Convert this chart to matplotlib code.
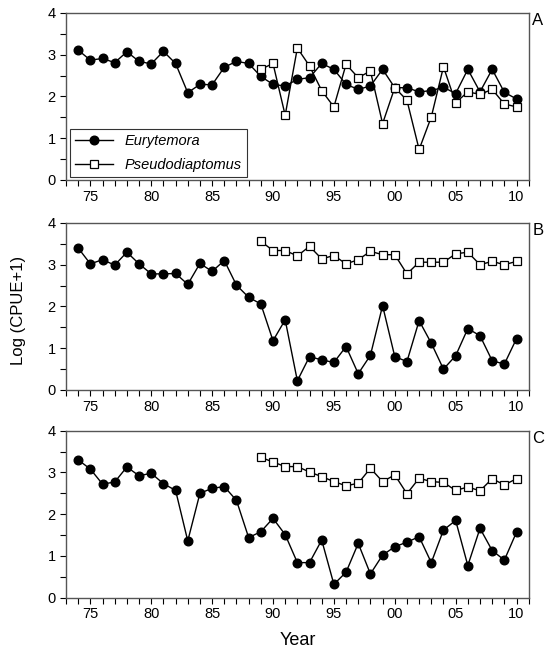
import matplotlib
matplotlib.use("Agg")
import matplotlib.pyplot as plt
from matplotlib.ticker import MultipleLocator, FixedLocator

plt.rcParams['font.family'] = ['Liberation Sans', 'DejaVu Sans']

years_eury = list(range(1974, 2011))
years_pseudo = list(range(1989, 2011))

eury_A = [3.11, 2.87, 2.91, 2.81, 3.07, 2.84, 2.78, 3.08, 2.79, 2.09, 2.29, 2.28, 2.70, 2.84, 2.79,
          2.48, 2.29, 2.25, 2.41, 2.45, 2.79, 2.65, 2.29, 2.17, 2.25, 2.65, 2.21, 2.21, 2.11, 2.14,
          2.22, 2.07, 2.65, 2.11, 2.65, 2.10, 1.94]
pseudo_A = [2.65, 2.79, 1.55, 3.16, 2.73, 2.14, 1.75, 2.77, 2.45, 2.61, 1.35, 2.21, 1.91, 0.73,
            1.51, 2.71, 1.85, 2.11, 2.05, 2.17, 1.82, 1.75]

eury_B = [3.40, 3.02, 3.12, 2.99, 3.30, 3.02, 2.78, 2.78, 2.79, 2.53, 3.03, 2.84, 3.10, 2.51, 2.22,
          2.06, 1.18, 1.68, 0.22, 0.80, 0.72, 0.66, 1.04, 0.39, 0.83, 2.02, 0.80, 0.68, 1.66, 1.12,
          0.50, 0.82, 1.47, 1.30, 0.70, 0.62, 1.23]
pseudo_B = [3.56, 3.34, 3.34, 3.21, 3.44, 3.14, 3.22, 3.02, 3.12, 3.32, 3.24, 3.24, 2.78, 3.06,
            3.06, 3.06, 3.26, 3.30, 3.00, 3.08, 3.00, 3.08]

eury_C = [3.30, 3.08, 2.72, 2.77, 3.13, 2.92, 2.98, 2.73, 2.57, 1.36, 2.50, 2.62, 2.66, 2.33, 1.44,
          1.58, 1.90, 1.51, 0.84, 0.84, 1.38, 0.32, 0.61, 1.30, 0.57, 1.02, 1.22, 1.33, 1.46, 0.84,
          1.62, 1.85, 0.77, 1.66, 1.13, 0.90, 1.57]
pseudo_C = [3.36, 3.25, 3.14, 3.14, 3.01, 2.90, 2.78, 2.68, 2.74, 3.10, 2.78, 2.94, 2.49, 2.86,
            2.78, 2.76, 2.57, 2.65, 2.56, 2.85, 2.70, 2.85]

panel_labels = ["A", "B", "C"]
xtick_years = [1975, 1980, 1985, 1990, 1995, 2000, 2005, 2010]
xtick_labels = ["75", "80", "85", "90", "95", "00", "05", "10"]
series_names = ["Eurytemora", "Pseudodiaptomus"]

fig = plt.figure(figsize=(5.45, 6.54), dpi=100)
left, width, height = 0.1211, 0.849, 0.2554
bottoms = [0.7248, 0.4037, 0.0861]
data = [(eury_A, pseudo_A), (eury_B, pseudo_B), (eury_C, pseudo_C)]

spine_col = "#555555"
axes = []
for i, (b, (e, p)) in enumerate(zip(bottoms, data)):
    ax = fig.add_axes([left, b, width, height])
    axes.append(ax)
    ax.plot(years_eury, e, '-o', color='black', lw=1.0, ms=6.2, mfc='black', mec='black',
            label=series_names[0], zorder=3)
    ax.plot(years_pseudo, p, '-s', color='black', lw=1.0, ms=5.6, mfc='white', mec='black',
            mew=0.9, label=series_names[1], zorder=4)
    ax.set_xlim(1973, 2011)
    ax.set_ylim(0, 4)
    ax.xaxis.set_major_locator(FixedLocator(xtick_years))
    ax.set_xticklabels(xtick_labels)
    ax.xaxis.set_minor_locator(MultipleLocator(1))
    ax.yaxis.set_major_locator(MultipleLocator(1))
    ax.yaxis.set_minor_locator(MultipleLocator(0.5))
    ax.tick_params(which='both', direction='out', length=4, width=0.8, color='black',
                   labelsize=10.5)
    ax.tick_params(axis='x', pad=3)
    for s in ax.spines.values():
        s.set_color(spine_col)
        s.set_linewidth(1.0)
    ax.text(1.008, 1.0, panel_labels[i], transform=ax.transAxes, ha='left', va='top',
            fontsize=12)
    if i == 0:
        leg = ax.legend(loc='lower left', bbox_to_anchor=(0.003, 0.0), frameon=True,
                        fancybox=False, edgecolor='black', prop={'style': 'italic', 'size': 10.5},
                        handlelength=2.6, borderpad=0.35, labelspacing=0.7, handletextpad=0.8,
                        borderaxespad=0.2)
        leg.get_frame().set_linewidth(0.8)

fig.text(0.034, 0.526, "Log (CPUE+1)", rotation=90, ha='center', va='center', fontsize=12)
fig.text(left + width / 2, 0.008, "Year", ha='center', va='bottom', fontsize=13)

fig.savefig("out.png", dpi=100)
